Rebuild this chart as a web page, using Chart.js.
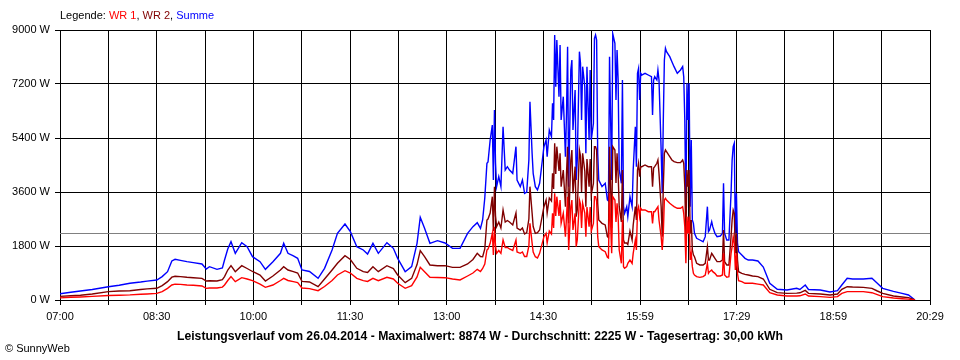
<!DOCTYPE html>
<html>
<head>
<meta charset="utf-8">
<script src="https://cdn.jsdelivr.net/npm/chart.js@4/dist/chart.umd.min.js"></script>
<style>
  body { margin: 0; background: #fff; }
  #wrap { position: relative; width: 960px; height: 360px; font-family: "Liberation Sans", Arial, sans-serif; }
  canvas { position: absolute; left: 0; top: 0; }
  .legend { position: absolute; left: 60px; top: 9px; font-size: 11px; color: #000; }
  .title { position: absolute; left: 0; width: 960px; top: 329px; text-align: center; font-size: 12.2px; font-weight: bold; }
  .copy { position: absolute; left: 5px; top: 342px; font-size: 11px; }
</style>
</head>
<body>
<div id="wrap">
  <canvas id="chart" width="960" height="360"></canvas>
  <div class="legend">Legende: <span style="color:#ff0000">WR 1</span>, <span style="color:#800000">WR 2</span>, <span style="color:#0000ff">Summe</span></div>
  <div class="title">Leistungsverlauf vom 26.04.2014 - Maximalwert: 8874 W - Durchschnitt: 2225 W - Tagesertrag: 30,00 kWh</div>
  <div class="copy">&copy; SunnyWeb</div>
</div>
<script>
// x axis labels (07:00 .. 20:29, 9 intervals)
const xTickLabels = ['07:00', '08:30', '10:00', '11:30', '13:00', '14:30', '15:59', '17:29', '18:59', '20:29'];
const yMax = 9000;
const yStep = 1800;
const average = 2225;

// sample times
const times = [
  '07:00','07:10','07:19','07:30','07:45','07:55','08:05','08:15','08:21','08:30',
  '08:35','08:40','08:44','08:47','08:52','08:58','09:04','09:12','09:16','09:19',
  '09:26','09:31','09:33','09:36','09:39','09:43','09:49','09:54','09:59','10:06',
  '10:11','10:18','10:25','10:28','10:32','10:37','10:41','10:45','10:52','11:00',
  '11:06','11:13','11:18','11:25','11:30','11:36','11:42','11:46','11:51','11:56',
  '12:04','12:10','12:14','12:21','12:27','12:32','12:35','12:39','12:44','12:51',
  '12:58','13:05','13:12','13:19','13:24','13:28','13:31','13:33','13:35','13:37',
  '13:38','13:40','13:42','13:43','13:44','13:45','13:46','13:48','13:50','13:52',
  '13:54','13:56','13:58','14:01','14:04','14:05','14:08','14:10','14:12','14:14',
  '14:16','14:17','14:19','14:20','14:22','14:24','14:26','14:30','14:32','14:33',
  '14:35','14:37','14:38','14:39','14:40','14:41','14:42','14:44','14:45','14:46',
  '14:48','14:50','14:51','14:52','14:53','14:55','14:56','14:57','14:59','15:00',
  '15:01','15:03','15:04','15:05','15:06','15:08','15:09','15:10','15:12','15:13',
  '15:14','15:16','15:17','15:18','15:19','15:20','15:21','15:24','15:27','15:29',
  '15:30','15:31','15:33','15:34','15:36','15:37','15:38','15:39','15:40','15:42',
  '15:43','15:44','15:45','15:47','15:48','15:50','15:52','15:53','15:55','15:56',
  '15:57','15:58','15:59','16:00','16:01','16:04','16:07','16:10','16:11','16:12',
  '16:13','16:15','16:16','16:17','16:19','16:20','16:21','16:22','16:23','16:24',
  '16:27','16:29','16:31','16:34','16:37','16:39','16:40','16:41','16:42','16:43',
  '16:44','16:45','16:46','16:47','16:48','16:49','16:50','16:52','16:55','16:58',
  '17:00','17:02','17:03','17:04','17:06','17:07','17:09','17:11','17:14','17:16',
  '17:17','17:18','17:20','17:22','17:24','17:25','17:26','17:27','17:28','17:29',
  '17:30','17:31','17:34','17:37','17:40','17:44','17:49','17:54','18:00','18:07',
  '18:16','18:25','18:28','18:33','18:36','18:47','18:56','19:03','19:07','19:12',
  '19:17','19:27','19:35','19:40','19:45','19:55','20:03','20:09','20:15'
];

// WR 1 (W)
const wr1 = [
  70, 90, 100, 120, 150, 160, 170, 190, 200, 220,
  280, 390, 500, 530, 520, 500, 490, 467, 389, 400,
  400, 430, 500, 650, 778, 611, 744, 700, 644, 530,
  422, 500, 650, 722, 650, 611, 580, 400, 380, 311,
  450, 650, 833, 978, 900, 722, 644, 620, 722, 644,
  756, 700, 556, 389, 480, 770, 1089, 944, 756, 750,
  744, 700, 667, 800, 900, 1022, 950, 1050, 1200, 1667,
  1700, 1889, 2222, 1500, 2444, 1800, 1556, 1650, 1556, 2000,
  1750, 1750, 1700, 1650, 2000, 1600, 1556, 1600, 1450, 1450,
  1800, 2556, 1900, 1600, 1444, 1400, 1556, 2111, 2222, 1900,
  2300, 2200, 2889, 2400, 3556, 2800, 3444, 2800, 3333, 2556,
  2889, 2111, 2778, 3444, 1667, 3111, 3333, 2333, 2889, 1778,
  2000, 3333, 3200, 2400, 3222, 2900, 2111, 3100, 2444, 3100,
  2300, 2556, 3444, 3444, 3300, 2111, 1778, 1667, 1611, 1422,
  1400, 3556, 1556, 3444, 3333, 2600, 3222, 2800, 1667, 1222,
  2667, 1111, 1056, 1111, 1222, 1333, 1222, 1556, 2000, 1667,
  3000, 3111, 2778, 3056, 3000, 3000, 2944, 2944, 2556, 2944,
  2944, 3056, 3111, 2667, 2111, 1667, 2222, 3333, 3389, 3333,
  3222, 3167, 3111, 3056, 3056, 3111, 2889, 2444, 1222, 2778,
  2222, 2778, 1333, 1556, 1111, 889, 833, 778, 756, 778,
  833, 1222, 889, 944, 1000, 944, 889, 800, 800, 833,
  1556, 833, 756, 778, 1556, 1778, 2111, 1889, 1000, 1556,
  889, 644, 611, 556, 556, 556, 530, 500, 244, 167,
  133, 133, 140, 200, 133, 111, 89, 111, 222, 278,
  278, 278, 244, 180, 111, 67, 44, 30, 0
];

// WR 2 (W)
const wr2 = [
  120, 140, 160, 200, 280, 300, 310, 350, 370, 390,
  480, 611, 760, 790, 780, 756, 740, 722, 633, 640,
  633, 680, 780, 1000, 1144, 944, 1144, 1050, 950, 833,
  633, 800, 1000, 1111, 1000, 944, 900, 620, 600, 444,
  700, 1000, 1222, 1478, 1350, 1056, 944, 920, 1111, 944,
  1144, 1050, 833, 578, 720, 1180, 1644, 1444, 1167, 1140,
  1144, 1089, 1089, 1200, 1350, 1556, 1450, 1444, 1700, 2667,
  2700, 2900, 3444, 2300, 3778, 2800, 2444, 2600, 2400, 3000,
  2600, 2650, 2600, 2500, 2900, 2400, 2333, 2400, 2200, 2250,
  2700, 3778, 2900, 2450, 2222, 2244, 2333, 3111, 3333, 2900,
  3400, 3300, 4222, 3700, 5222, 4200, 5111, 4300, 4889, 3778,
  4333, 3111, 4222, 5111, 2556, 4667, 5000, 3556, 4444, 2778,
  3000, 5000, 4800, 3600, 4889, 4300, 3111, 4700, 3778, 4700,
  3500, 3889, 5111, 5111, 5000, 3222, 2667, 2556, 2500, 2111,
  2080, 5111, 2400, 5111, 5000, 3900, 4889, 4200, 3111, 2600,
  4333, 2000, 1900, 1900, 1850, 2300, 2000, 2500, 3111, 2667,
  4333, 4556, 4111, 4444, 4444, 4500, 4444, 4444, 3778, 4400,
  4444, 4556, 4667, 4222, 3111, 2111, 3778, 4889, 5000, 4944,
  4778, 4667, 4611, 4578, 4578, 4667, 4556, 3778, 2111, 4333,
  3778, 4333, 2222, 2667, 1667, 1500, 1444, 1222, 1167, 1167,
  1222, 1778, 1333, 1333, 1556, 1500, 1389, 1278, 1278, 1333,
  2333, 1278, 1167, 1167, 2111, 2667, 3000, 2889, 1556, 2222,
  1333, 944, 889, 856, 833, 800, 778, 700, 356, 244,
  222, 230, 240, 320, 222, 200, 167, 200, 356, 444,
  433, 422, 389, 300, 222, 133, 100, 80, 0
];

// Summe (W)
const summe = [
  210, 260, 300, 350, 440, 490, 560, 600, 630, 667,
  780, 944, 1300, 1356, 1320, 1278, 1244, 1200, 1033, 1111,
  1022, 1067, 1333, 1700, 1944, 1556, 1911, 1778, 1444, 1278,
  1022, 1278, 1556, 1889, 1556, 1467, 1389, 1000, 950, 722,
  1056, 1667, 2222, 2533, 2278, 1778, 1667, 1533, 1889, 1556,
  1911, 1722, 1389, 944, 1111, 1889, 2756, 2389, 1889, 1978,
  1900, 1722, 1722, 2222, 2444, 2578, 2389, 2667, 3400, 4556,
  4600, 5333, 5833, 4000, 6333, 4556, 3778, 4111, 3778, 5778,
  4333, 4444, 4333, 4222, 5111, 4000, 3778, 4000, 3556, 3600,
  4667, 6611, 4889, 4222, 3778, 3667, 3889, 5111, 5333, 4778,
  5667, 5444, 6556, 6000, 8833, 7111, 8667, 6778, 8500, 6000,
  6778, 4778, 6222, 8444, 3778, 7667, 8000, 5667, 7000, 4000,
  4667, 8278, 7889, 6000, 7778, 7111, 4889, 7778, 5333, 7667,
  5333, 5889, 8722, 8833, 8667, 4889, 4000, 3778, 3889, 3333,
  3300, 8111, 4000, 8874, 8556, 6667, 8333, 7333, 4333, 3889,
  7333, 3111, 2889, 3111, 2778, 3444, 3111, 4333, 5778, 4444,
  7556, 7722, 6667, 7556, 7500, 7556, 7500, 7444, 6167, 7333,
  7444, 7333, 7667, 7333, 5000, 3556, 6000, 8000, 8389, 8278,
  8111, 7944, 7778, 7556, 7667, 7778, 7444, 6000, 2889, 7222,
  6000, 7222, 3111, 5333, 2667, 2556, 2222, 2056, 2000, 1944,
  2111, 3111, 2278, 2333, 2611, 2444, 2222, 2111, 2133, 2222,
  3889, 2222, 2000, 2000, 3556, 4667, 5111, 5222, 2222, 3556,
  1900, 1611, 1500, 1389, 1333, 1333, 1300, 1100, 556, 356,
  333, 389, 350, 500, 350, 333, 267, 311, 500, 722,
  700, 700, 722, 556, 389, 289, 222, 167, 0
];

const toMinutes = t => {
  const [h, m] = t.split(':').map(Number);
  return h * 60 + m - 7 * 60;
};
const xMin = toMinutes(xTickLabels[0]);
const xMax = toMinutes(xTickLabels[xTickLabels.length - 1]);

const points = values => times.map((t, i) => ({ x: toMinutes(t), y: values[i] }));

// grey line for the day average
const averageLine = {
  id: 'averageLine',
  beforeDatasetsDraw(chart) {
    const { ctx, chartArea, scales } = chart;
    const y = Math.round(scales.y.getPixelForValue(average)) + 0.5;
    ctx.save();
    ctx.strokeStyle = '#808080';
    ctx.lineWidth = 1;
    ctx.beginPath();
    ctx.moveTo(chartArea.left, y);
    ctx.lineTo(chartArea.right, y);
    ctx.stroke();
    ctx.restore();
  }
};

const tickFont = { family: '"Liberation Sans", Arial, sans-serif', size: 11 };

new Chart(document.getElementById('chart'), {
  type: 'line',
  data: {
    datasets: [
      { label: 'WR 1', data: points(wr1), borderColor: '#ff0000', borderWidth: 1.4 },
      { label: 'WR 2', data: points(wr2), borderColor: '#800000', borderWidth: 1.4 },
      { label: 'Summe', data: points(summe), borderColor: '#0000ff', borderWidth: 1.4 }
    ]
  },
  options: {
    responsive: false,
    animation: false,
    layout: { padding: { top: 30, right: 30, left: 0, bottom: 0 } },
    elements: { point: { radius: 0 }, line: { tension: 0 } },
    plugins: { legend: { display: false }, tooltip: { enabled: false } },
    scales: {
      x: {
        type: 'linear',
        min: xMin,
        max: xMax,
        afterFit: s => { s.height = 60; },
        afterBuildTicks: s => {
          const n = (xTickLabels.length - 1) * 2;
          s.ticks = Array.from({ length: n + 1 }, (_, i) => ({ value: xMin + i * (xMax - xMin) / n }));
        },
        ticks: {
          autoSkip: false,
          maxRotation: 0,
          padding: 5,
          color: '#000',
          font: tickFont,
          callback: (v, i) => (i % 2 === 0 ? xTickLabels[i / 2] : '')
        },
        grid: { color: '#000', lineWidth: 1, tickLength: 5 },
        border: { color: '#000' }
      },
      y: {
        min: 0,
        max: yMax,
        afterFit: s => { s.width = 60; },
        ticks: {
          stepSize: yStep,
          padding: 5,
          color: '#000',
          font: tickFont,
          callback: v => v + ' W'
        },
        grid: { color: '#000', lineWidth: 1, tickLength: 5 },
        border: { color: '#000' }
      }
    }
  },
  plugins: [averageLine]
});
</script>
</body>
</html>
